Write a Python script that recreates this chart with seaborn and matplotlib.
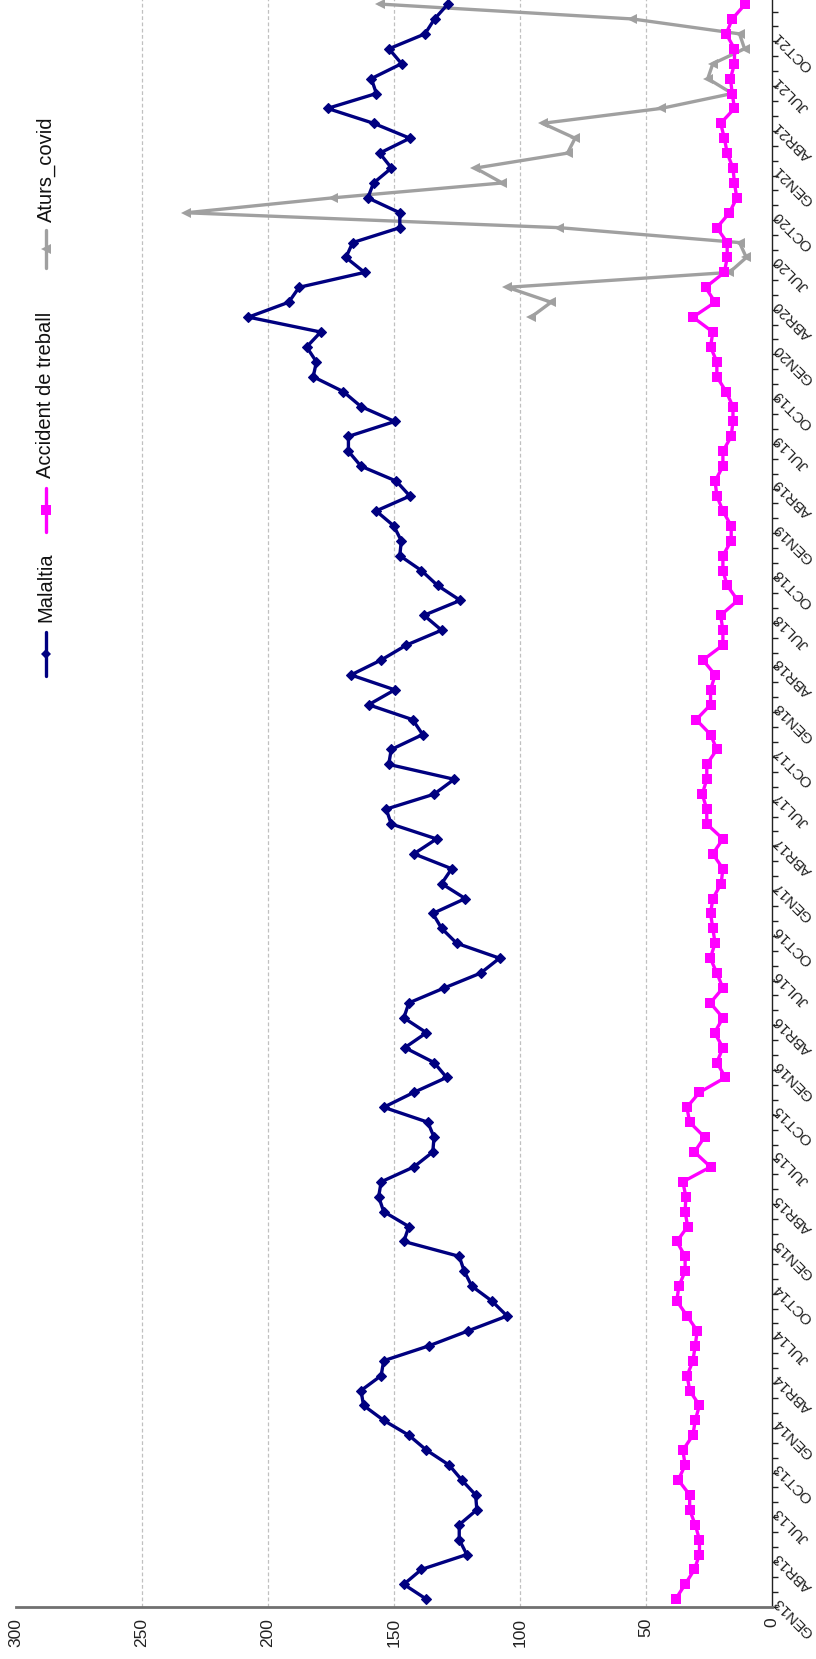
import numpy as np
import pandas as pd
import matplotlib
matplotlib.use("Agg")
import matplotlib.pyplot as plt
from matplotlib.lines import Line2D
import seaborn as sns

# ---------------- data ----------------
series_names = ["Malaltia", "Accident de treball", "Aturs_covid"]

# monthly values, GEN13 ... DES21 (108 months)
malaltia = [137, 146, 139, 121, 124, 124, 117, 117.5, 123, 128, 137, 144,
            154, 162, 163, 155, 154, 136, 120.5, 105, 111, 119, 122, 124,
            146, 144, 154, 156, 155, 142, 134.5, 134, 136.5, 154, 142, 129,
            134, 145.6, 137, 146, 144, 130, 115.5, 108, 125, 131, 134.5, 121.6,
            131, 127, 142, 133, 151, 153, 134, 126, 152, 151, 138.5, 142.5,
            160, 149.6, 167, 155, 145, 131, 138, 123.6, 132.6, 139, 147.6, 147,
            150, 157, 143.6, 149, 163, 168, 168, 149.6, 163, 170, 182, 180.7,
            184.6, 179, 207.7, 191.7, 187.6, 161.6, 169, 166.3, 147.6, 147.6, 160.3, 158,
            150.9, 155.6, 143.6, 158, 176.3, 156.9, 158.9, 146.9, 151.9, 137.6, 133.8, 128.5]

accident = [38.1, 34.3, 30.6, 28.6, 28.6, 30.3, 32.5, 32.5, 37.0, 34.3, 35.2, 31.2,
            30.3, 28.6, 32.5, 33.5, 31.2, 30.3, 29.5, 33.5, 37.6, 36.8, 34.3, 34.3,
            37.6, 33.3, 34.3, 34.0, 35.2, 24.2, 30.6, 26.6, 32.5, 33.6, 28.6, 18.3,
            21.7, 19.3, 22.6, 19.3, 24.3, 19.3, 21.7, 24.3, 22.4, 23.3, 24.2, 23.3,
            20.0, 19.3, 23.3, 19.3, 25.7, 25.7, 27.5, 25.7, 25.7, 21.7, 24.2, 29.9,
            24.2, 24.2, 22.4, 27.2, 19.3, 19.3, 20.2, 13.4, 17.6, 19.3, 19.3, 16.0,
            16.0, 19.3, 21.7, 22.4, 19.3, 19.3, 16.0, 15.3, 15.3, 18.0, 21.7, 21.7,
            24.2, 23.3, 31.2, 22.4, 26.2, 18.7, 17.6, 17.6, 21.7, 16.7, 13.8, 14.7,
            15.3, 17.6, 18.7, 20.2, 14.7, 15.6, 16.3, 14.7, 14.7, 18.0, 15.6, 10.4]

# Aturs_covid only exists from MAR20 (month 86) to DES21
aturs_start = 86
aturs_covid = [95.5, 87.5, 104.9, 16.7, 10.0, 12.7, 84.2, 232.4, 174.3, 106.9,
               117.6, 81.0, 78.0, 90.9, 43.8, 15.6, 25.3, 23.3, 10.7, 12.7, 55.2, 155.6]

tick_labels = ["GEN13", "ABR13", "JUL13", "OCT13", "GEN14", "ABR14", "JUL14", "OCT14",
               "GEN15", "ABR15", "JUL15", "OCT15", "GEN16", "ABR16", "JUL16", "OCT16",
               "GEN17", "ABR17", "JUL17", "OCT17", "GEN18", "ABR18", "JUL18", "OCT18",
               "GEN19", "ABR19", "JUL19", "OCT19", "GEN20", "ABR20", "JUL20", "OCT20",
               "GEN21", "ABR21", "JUL21", "OCT21"]
value_ticks = [0, 50, 100, 150, 200, 250, 300]

n_months = len(malaltia)
month_idx = np.arange(n_months)

df_mal = pd.DataFrame({"month": month_idx, "value": malaltia})
df_acc = pd.DataFrame({"month": month_idx, "value": accident})
df_atu = pd.DataFrame({"month": np.arange(aturs_start, aturs_start + len(aturs_covid)),
                       "value": aturs_covid})

# ---------------- style ----------------
sns.set_style("white")
plt.rcParams["font.family"] = ["Liberation Sans", "DejaVu Sans"]

W, H = 816, 1659
fig = plt.figure(figsize=(W / 100, H / 100), dpi=100)

# axes rectangle in pixels (rotated chart: value axis horizontal, time vertical)
ax_left_px, ax_right_px = 16, 771.5
ax_top_px, ax_bottom_px = -3.4, 1606.7
ax = fig.add_axes([ax_left_px / W, 1 - ax_bottom_px / H,
                   (ax_right_px - ax_left_px) / W, (ax_bottom_px - ax_top_px) / H])

col_mal = "#000080"
col_acc = "#FF00FF"
col_atu = "#A0A0A0"
lw = 2.4

sns.lineplot(data=df_mal, x="value", y="month", sort=False, estimator=None, ax=ax,
             color=col_mal, linewidth=lw, marker="D", markersize=5,
             markeredgewidth=0.8, markeredgecolor=col_mal, zorder=3)
sns.lineplot(data=df_acc, x="value", y="month", sort=False, estimator=None, ax=ax,
             color=col_acc, linewidth=lw, marker="s", markersize=6.5,
             markeredgewidth=0, zorder=3)
sns.lineplot(data=df_atu, x="value", y="month", sort=False, estimator=None, ax=ax,
             color=col_atu, linewidth=lw, marker="<", markersize=7,
             markeredgewidth=0, zorder=2)

ax.set_xlim(300, 0)
ax.set_ylim(-0.5, n_months - 0.5)
ax.set_xlabel("")
ax.set_ylabel("")

# value axis (bottom)
ax.set_xticks(value_ticks)
ax.set_xticklabels([str(v) for v in value_ticks], rotation=90, fontsize=12.5, color="#222222")
ax.tick_params(axis="x", direction="out", length=4, width=1.2, color="#707070", pad=4)

# time axis (right)
ax.yaxis.tick_right()
ax.set_yticks(np.arange(n_months + 1) - 0.5)
ax.set_yticklabels([])
ax.tick_params(axis="y", which="major", direction="out", length=4, width=1.0, color="#222222")
label_pos = np.arange(0, 3 * len(tick_labels), 3)
ax.set_yticks(label_pos, minor=True)
ax.set_yticklabels(tick_labels, minor=True, fontsize=11, color="#222222")
ax.tick_params(axis="y", which="minor", length=0, pad=3)
for lab in ax.get_yticklabels(minor=True):
    lab.set_rotation(135)
    lab.set_rotation_mode("anchor")
    lab.set_horizontalalignment("right")
    lab.set_verticalalignment("center")

# grid
ax.grid(axis="x", color="#C0C0C0", linestyle=(0, (3, 2)), linewidth=0.9)
ax.grid(axis="y", visible=False)
gl = ax.get_xgridlines()
for line, v in zip(gl, value_ticks):
    if v in (0, 300):
        line.set_visible(False)

# spines
for s in ["top", "left"]:
    ax.spines[s].set_visible(False)
ax.spines["bottom"].set_color("#707070")
ax.spines["bottom"].set_linewidth(2.0)
ax.spines["right"].set_color("#222222")
ax.spines["right"].set_linewidth(1.0)

# ---------------- legend (rotated, drawn manually) ----------------
def fx(px):
    return px / W

def fy(py):
    return 1 - py / H

legend_x = 46
legend_items = [
    # (name, color, marker, msize, line_top_px, line_bottom_px, text_start_px)
    (series_names[0], col_mal, "D", 5, 632, 676, 622),
    (series_names[1], col_acc, "s", 6.5, 488, 532, 478),
    (series_names[2], col_atu, "<", 7, 230, 268, 222),
]
for name, c, m, ms, ltop, lbot, tstart in legend_items:
    fig.add_artist(Line2D([fx(legend_x), fx(legend_x)], [fy(ltop), fy(lbot)],
                          transform=fig.transFigure, color=c, linewidth=lw))
    fig.add_artist(Line2D([fx(legend_x)], [fy((ltop + lbot) / 2)],
                          transform=fig.transFigure, color=c, marker=m,
                          markersize=ms, markeredgewidth=0, linestyle="none"))
    fig.text(fx(legend_x), fy(tstart), name, rotation=90, ha="center", va="bottom",
             fontsize=14.5, color="#111111")

fig.savefig("out.png", dpi=100, facecolor="white")
